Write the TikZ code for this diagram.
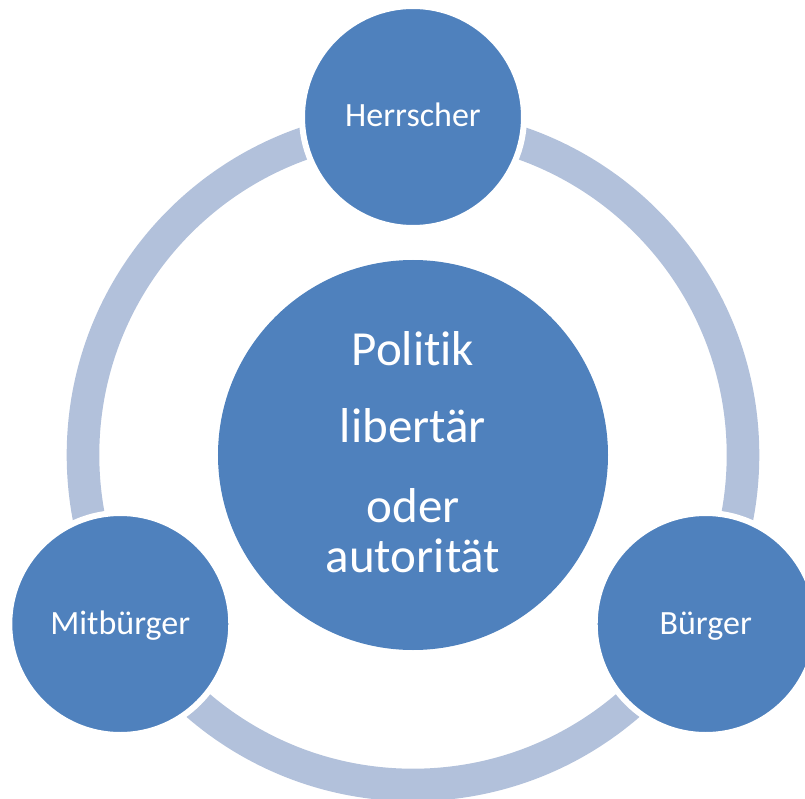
\documentclass[tikz,border=0pt]{standalone}
\usepackage{fontspec}
\setmainfont{Carlito}[Ligatures={NoCommon}]
\usetikzlibrary{positioning}
\definecolor{accblue}{HTML}{4F81BD}
\definecolor{ringblue}{HTML}{B2C1DB}

\begin{document}
\begin{tikzpicture}[x=1pt,y=1pt]
  \useasboundingbox (-413,-343) rectangle (392,455);
  \node[circle,fill=accblue,minimum size=390pt,inner sep=0pt,text=white,align=center,
        font=\fontsize{49}{50}\selectfont] (Pol) at (0,0)
        {Politik\\[27pt]libertär\\[30pt]oder\\autorität\rule[-6pt]{0pt}{6pt}};
  \draw[ringblue,line width=32.6pt] (Pol.center) circle (330);
  \foreach \X [count=\Y] in {Herrscher,Mitbürger,Bürger}
  {\node[circle,fill=accblue,draw=white,line width=6pt,minimum size=222pt,inner sep=0pt,
         text=white,text height=22pt,text depth=2pt,font=\fontsize{34}{40}\selectfont]
         (R-\Y) at ({90+120*(\Y-1)}:338) {\X};}
\end{tikzpicture}
\end{document}
